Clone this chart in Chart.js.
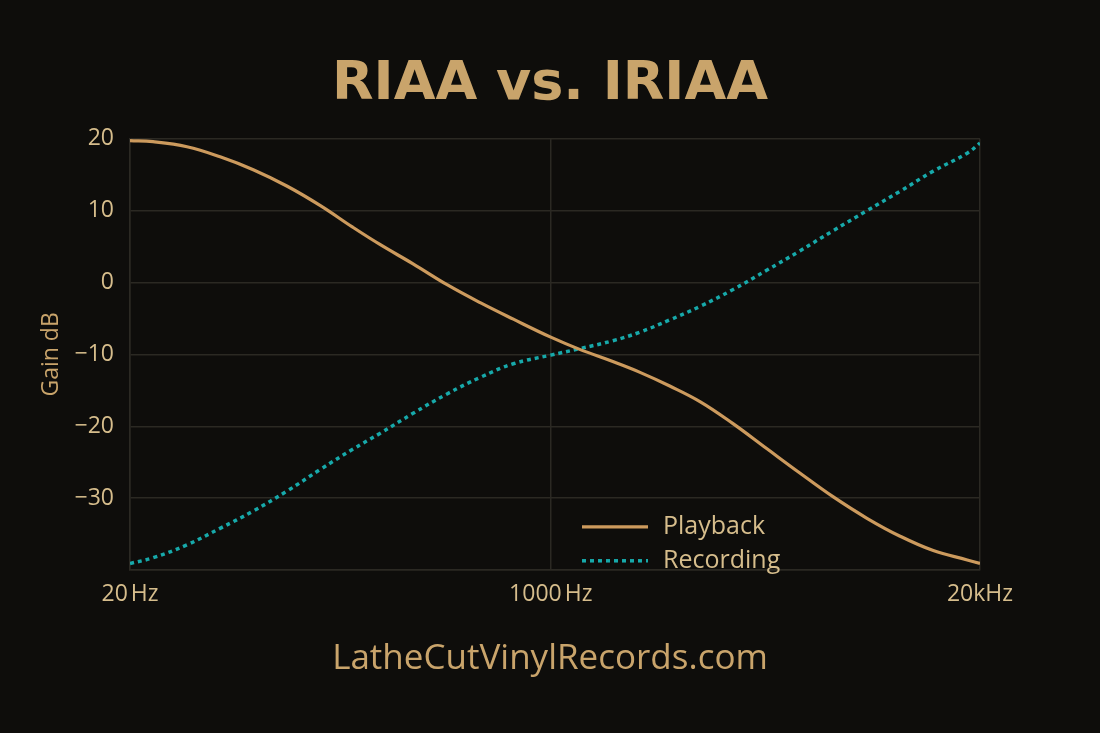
<!DOCTYPE html>
<html>
<head>
<meta charset="utf-8">
<title>RIAA vs. IRIAA</title>
<script src="https://cdn.jsdelivr.net/npm/chart.js@4.4.1/dist/chart.umd.min.js"></script>
<style>
  html, body { margin: 0; padding: 0; background: #0e0d0b; }
  canvas { display: block; }
</style>
</head>
<body>
<canvas id="riaa" width="1100" height="733"></canvas>
<script>
; (function () {
    'use strict'

    // ── Data ───────────────────────────────────────────────────────────────────
    // x position along the frequency axis (0 = 20 Hz, 100 = 20 kHz)
    const freqPos = [0, 2.7, 6.7, 10.6, 14.5, 18.5, 22.4, 26.2, 29.4, 33.3, 37.3, 41.2, 45.1,
        49.5, 52.9, 56.8, 60.0, 63.5, 67.1, 70.9, 74.9, 78.8, 82.7, 86.7, 90.6, 94.5, 98.5, 100]
    const playback = [19.75, 19.6, 18.9, 17.5, 15.7, 13.4, 10.7, 7.7, 5.3, 2.6, -0.3, -2.8, -5.1,
        -7.6, -9.3, -11.0, -12.5, -14.4, -16.6, -19.6, -23.1, -26.5, -29.8, -32.8, -35.3, -37.3, -38.6, -39.1]
    const recording = [-39.1, -38.3, -36.5, -34.2, -31.8, -29.0, -26.0, -23.2, -21.0, -18.2, -15.5, -13.2, -11.3,
        -10.1, -9.2, -8.1, -6.9, -5.2, -3.3, -1.0, 1.7, 4.4, 7.2, 10.0, 12.7, 15.5, 18.0, 19.4]
    const xTickPos = [0, 49.5, 100]
    const xTickLabels = ['20\u202FHz', '1000\u202FHz', '20kHz']
    const seriesNames = ['Playback', 'Recording']

    // ── Colours ────────────────────────────────────────────────────────────────
    const BG = '#0e0d0b'
    const GOLD = '#c9a46b'
    const TEXT = '#d6bd8c'
    const ORANGE = '#cc9a5d'
    const TEAL = '#17a9aa'
    const GRID = '#2b2923'
    const FONT = "'Open Sans', 'Noto Sans', sans-serif"

    const toPoints = vals => vals.map((y, i) => ({ x: freqPos[i], y }))

    // ── Plugins ────────────────────────────────────────────────────────────────
    const background = {
        id: 'background',
        beforeDraw(chart) {
            const ctx = chart.ctx
            ctx.save()
            ctx.fillStyle = BG
            ctx.fillRect(0, 0, chart.width, chart.height)
            ctx.restore()
        }
    }

    // legend drawn inside the plot, bottom right
    const innerLegend = {
        id: 'innerLegend',
        afterDatasetsDraw(chart) {
            const { ctx, chartArea } = chart
            const x0 = chartArea.left + 452
            const y0 = chartArea.top + 388
            ctx.save()
            chart.data.datasets.forEach((ds, i) => {
                const y = y0 + i * 34
                ctx.beginPath()
                ctx.strokeStyle = ds.borderColor
                ctx.lineWidth = ds.borderWidth
                ctx.setLineDash(ds.borderDash || [])
                ctx.moveTo(x0, y)
                ctx.lineTo(x0 + 66, y)
                ctx.stroke()
                ctx.setLineDash([])
                ctx.fillStyle = TEXT
                ctx.font = `25px ${FONT}`
                ctx.textBaseline = 'middle'
                ctx.fillText(ds.label, x0 + 81, y)
            })
            ctx.restore()
        }
    }

    // ── Chart ──────────────────────────────────────────────────────────────────
    new Chart(document.getElementById('riaa'), {
        type: 'line',
        data: {
            datasets: [{
                label: seriesNames[0],
                data: toPoints(playback),
                borderColor: ORANGE,
                borderWidth: 3.2,
                pointRadius: 0,
                tension: 0.4,
                fill: false
            }, {
                label: seriesNames[1],
                data: toPoints(recording),
                borderColor: TEAL,
                borderWidth: 3.5,
                borderDash: [4, 4],
                pointRadius: 0,
                tension: 0.4,
                fill: false
            }]
        },
        options: {
            responsive: false,
            animation: false,
            layout: { padding: 0 },
            plugins: {
                legend: { display: false },
                tooltip: { enabled: false },
                title: {
                    display: true,
                    text: 'RIAA vs. IRIAA',
                    color: GOLD,
                    font: { family: "'DejaVu Sans', sans-serif", size: 54, weight: 'bold', lineHeight: 1.2 },
                    padding: { top: 53, bottom: 21 }
                },
                subtitle: {
                    display: true,
                    position: 'bottom',
                    text: 'LatheCutVinylRecords.com',
                    color: GOLD,
                    font: { family: FONT, size: 35, lineHeight: 1.2 },
                    padding: { top: 18, bottom: 53 }
                }
            },
            scales: {
                x: {
                    type: 'linear',
                    min: 0, max: 100,
                    afterBuildTicks: axis => { axis.ticks = xTickPos.map(v => ({ value: v })) },
                    afterFit: axis => { axis.height = 50; axis.paddingRight = 120 },
                    ticks: {
                        color: TEXT,
                        padding: 11,
                        maxRotation: 0,
                        autoSkip: false,
                        font: { family: FONT, size: 23 },
                        callback: v => xTickLabels[xTickPos.indexOf(v)]
                    },
                    grid: { color: GRID, lineWidth: 1.5, drawTicks: false },
                    border: { color: GRID, width: 1.5 }
                },
                y: {
                    min: -40, max: 20,
                    afterFit: axis => { axis.width = 130 },
                    ticks: {
                        stepSize: 10,
                        color: TEXT,
                        padding: 16,
                        font: { family: FONT, size: 23 },
                        callback: v => v === -40 ? '' : String(v).replace('-', '\u2212')
                    },
                    title: {
                        display: true,
                        text: 'Gain dB',
                        color: GOLD,
                        font: { family: FONT, size: 23, lineHeight: 1.2 },
                        padding: { top: 38, bottom: 0 }
                    },
                    grid: { color: GRID, lineWidth: 1.5, drawTicks: false },
                    border: { color: GRID, width: 1.5 }
                }
            }
        },
        plugins: [background, innerLegend]
    })
})()
</script>
</body>
</html>
